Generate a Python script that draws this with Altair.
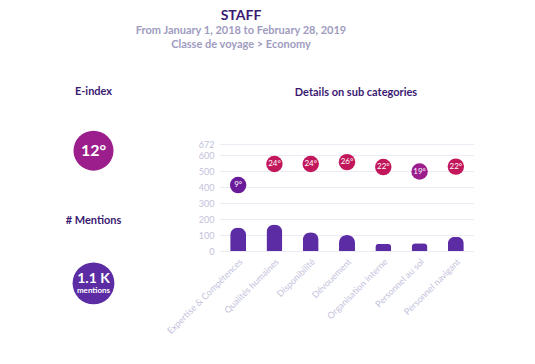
import altair as alt
import pandas as pd

categories = ["Expertise & Compétences", "Qualités humaines", "Disponibilité", "Dévouement",
              "Organisation interne", "Personnel au sol", "Personnel navigant"]
mentions = [148, 166, 117, 100, 46, 49, 89]
eindex = [9, 24, 24, 26, 22, 19, 22]
eindex_pos = [414, 546, 546, 558, 527, 499, 530]
y_ticks = [0, 100, 200, 300, 400, 500, 600, 672]

kpi_eindex = 12
kpi_mentions = "1.1 K"

FONT = "Lato"
DARK = "#3b1a72"
LABEL = "#c3c1dc"
BAR = "#5b2ca3"
color_scale = alt.Scale(type="threshold", domain=[10, 20],
                        range=["#6a1b9a", "#9c1e8c", "#c2185b"])

df = pd.DataFrame({"cat": categories, "mentions": mentions,
                   "e": eindex, "pos": eindex_pos,
                   "lbl": [f"{v}°" for v in eindex]})

xenc = alt.X("cat:N", sort=categories, title=None,
             scale=alt.Scale(paddingInner=0.56, paddingOuter=0.28),
             axis=alt.Axis(labelAngle=-45, labelColor=LABEL, labelFontSize=9,
                           labelFont=FONT, domain=False, ticks=False, labelPadding=6))
yscale = alt.Scale(domain=[0, 672], nice=False, zero=True)
yaxis = alt.Axis(values=y_ticks, labelColor=LABEL, labelFontSize=9, labelFont=FONT,
                 labelOverlap=False, labelFlush=False, domain=False, ticks=False,
                 gridColor="#ecebf4", labelPadding=6)

bars = alt.Chart(df).mark_bar(color=BAR, cornerRadiusTopLeft=8, cornerRadiusTopRight=8).encode(
    x=xenc,
    y=alt.Y("mentions:Q", scale=yscale, title=None, axis=yaxis),
)
dots = alt.Chart(df).mark_circle(size=270, opacity=1).encode(
    x=alt.X("cat:N", sort=categories),
    y=alt.Y("pos:Q", scale=yscale, title=None, axis=yaxis),
    color=alt.Color("e:Q", scale=color_scale, legend=None),
)
dot_txt = alt.Chart(df).mark_text(color="white", fontSize=8, font=FONT).encode(
    x=alt.X("cat:N", sort=categories),
    y=alt.Y("pos:Q", scale=yscale, title=None, axis=yaxis),
    text="lbl:N",
)
right = alt.layer(bars, dots, dot_txt).properties(
    width=254, height=107,
    title=alt.TitleParams("Details on sub categories", fontSize=11, font=FONT, fontWeight="bold",
                          color=DARK, offset=42, dx=9, frame="group"),
)

rows = ["c1", "lab", "c2"]
left_df = pd.DataFrame({"col": ["a", "a", "a"], "row": rows,
                        "e": [kpi_eindex, None, None]})
yrow = alt.Y("row:N", sort=rows, axis=None, scale=alt.Scale(type="point", padding=0.1))
xcol = alt.X("col:N", axis=None)

circ1 = alt.Chart(left_df).transform_filter("datum.row == 'c1'").mark_circle(size=1600, opacity=1).encode(
    x=xcol, y=yrow, color=alt.Color("e:Q", scale=color_scale, legend=None))
circ2 = alt.Chart(left_df).transform_filter("datum.row == 'c2'").mark_circle(size=1750, opacity=1, color=BAR).encode(
    x=xcol, y=yrow)
t1 = alt.Chart(left_df).transform_filter("datum.row == 'c1'").transform_calculate(
    t=f"'{kpi_eindex}°'").mark_text(color="white", fontSize=16, fontWeight="bold", font=FONT).encode(
    x=xcol, y=yrow, text="t:N")
tlab = alt.Chart(left_df).transform_filter("datum.row == 'lab'").transform_calculate(
    t="'# Mentions'").mark_text(color=DARK, fontSize=11, fontWeight="bold", font=FONT, dy=4).encode(
    x=xcol, y=yrow, text="t:N")
t2 = alt.Chart(left_df).transform_filter("datum.row == 'c2'").transform_calculate(
    t=f"'{kpi_mentions}'").mark_text(color="white", fontSize=14, fontWeight="bold", font=FONT, dy=-4).encode(
    x=xcol, y=yrow, text="t:N")
t3 = alt.Chart(left_df).transform_filter("datum.row == 'c2'").transform_calculate(
    t="'mentions'").mark_text(color="white", fontSize=8, fontWeight="bold", font=FONT, dy=8).encode(
    x=xcol, y=yrow, text="t:N")

left = alt.layer(circ1, circ2, t1, tlab, t2, t3).properties(
    width=171, height=146,
    title=alt.TitleParams("E-index", fontSize=11, font=FONT, fontWeight="bold",
                          color=DARK, offset=34, frame="group"),
)

chart = alt.hconcat(left, right, spacing=-14).properties(
    padding={"left": 0, "top": 0, "right": 0, "bottom": 0},
    title=alt.TitleParams("STAFF", subtitle=["From January 1, 2018 to February 28, 2019",
                                             "Classe de voyage > Economy"],
                          fontSize=14, font=FONT, fontWeight="bold", color=DARK,
                          subtitleFont=FONT, subtitleFontSize=11, subtitleFontWeight="bold",
                          subtitleColor="#a09cc0", subtitlePadding=2, subtitleLineHeight=14,
                          anchor="middle", offset=36),
).configure_view(stroke=None)

chart.save("out.html", embed_options={"renderer": "svg", "actions": False})
